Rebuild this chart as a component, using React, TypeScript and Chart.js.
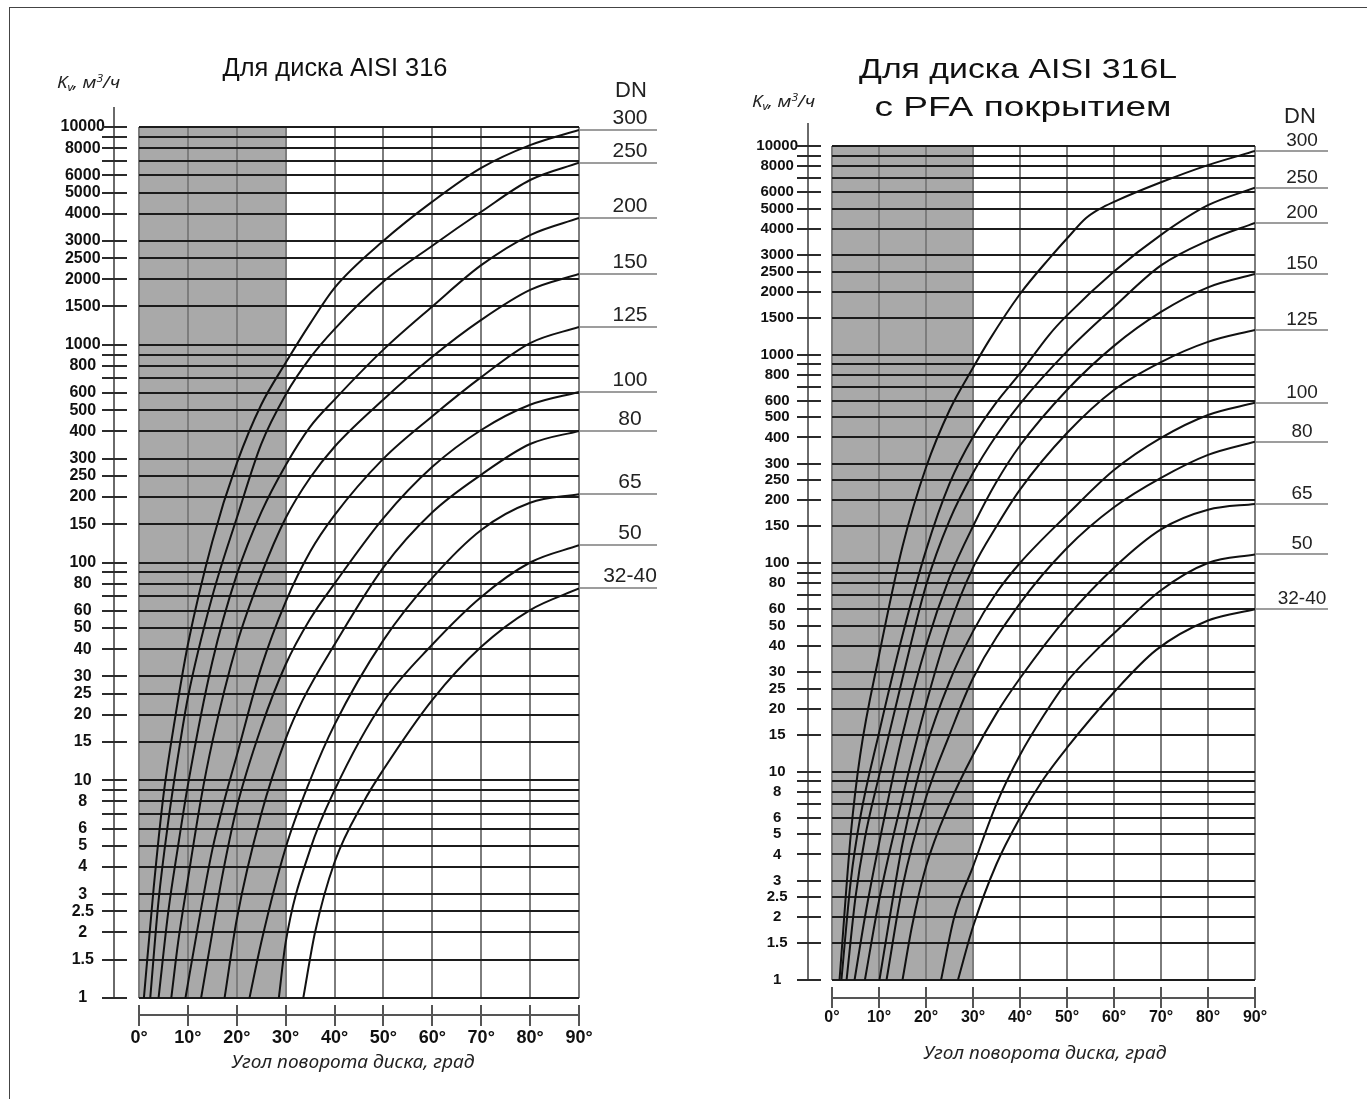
import React, { useEffect, useRef } from "react";
import { Chart, registerables } from "chart.js";

Chart.register(...registerables);

type Pt = [number, number];

// ---------- axis values ----------
const ANGLE_TICKS = [0, 10, 20, 30, 40, 50, 60, 70, 80, 90];
const KV_GRID = [
  1, 1.5, 2, 2.5, 3, 4, 5, 6, 7, 8, 9,
  10, 15, 20, 25, 30, 40, 50, 60, 70, 80, 90,
  100, 150, 200, 250, 300, 400, 500, 600, 700, 800, 900,
  1000, 1500, 2000, 2500, 3000, 4000, 5000, 6000, 7000, 8000, 9000, 10000,
];
const KV_LABELS = [
  1, 1.5, 2, 2.5, 3, 4, 5, 6, 8,
  10, 15, 20, 25, 30, 40, 50, 60, 80,
  100, 150, 200, 250, 300, 400, 500, 600, 800,
  1000, 1500, 2000, 2500, 3000, 4000, 5000, 6000, 8000, 10000,
];
const DN_NAMES = ["300", "250", "200", "150", "125", "100", "80", "65", "50", "32-40"];
const SHADED_TO = 30;

const LEFT_TITLE = ["Для диска AISI 316"];
const RIGHT_TITLE = ["Для диска AISI 316L", "с PFA покрытием"];
const X_TITLE = "Угол поворота диска, град";

// ---------- left chart (AISI 316): [angle, Kv] ----------
const L300: Pt[] = [[1, 1], [3, 3.2], [5, 8.5], [7.5, 20], [10, 42], [15, 125], [20, 285], [25, 530], [30, 826], [35, 1250], [40, 1824], [50, 3000], [60, 4540], [70, 6490], [80, 8260], [90, 9700]];
const L250: Pt[] = [[2.3, 1], [4, 2.8], [6, 6.5], [8, 13], [10, 24], [15, 70], [20, 160], [25, 350], [30, 590], [35, 870], [40, 1180], [50, 1950], [60, 2850], [70, 4080], [80, 5710], [90, 6850]];
const L200: Pt[] = [[4, 1], [6, 2.5], [8, 5], [10, 9.5], [15, 35], [20, 88], [25, 170], [30, 280], [35, 420], [40, 560], [50, 950], [60, 1500], [70, 2320], [80, 3190], [90, 3820]];
const L150: Pt[] = [[6.6, 1], [8, 1.8], [10, 3.5], [12.6, 8], [15, 15], [20, 42], [25, 88], [30, 160], [35, 245], [40, 340], [50, 560], [60, 880], [70, 1300], [80, 1785], [90, 2113]];
const L125: Pt[] = [[9.5, 1], [12, 2.1], [15, 4.8], [17.6, 8.3], [20, 13], [25, 33], [30, 66], [35, 112], [40, 165], [50, 300], [60, 470], [70, 710], [80, 1018], [90, 1208]];
const L100: Pt[] = [[12.7, 1], [15, 2], [17, 3.6], [20, 7.5], [25, 17.5], [30, 34], [35, 55], [40, 80], [50, 160], [60, 275], [70, 406], [80, 530], [90, 607]];
const L80: Pt[] = [[17.5, 1], [20, 2.3], [25, 7], [30, 15.5], [33.5, 23.4], [40, 42], [50, 95], [60, 170], [70, 253], [80, 350], [90, 402]];
const L65: Pt[] = [[22.6, 1], [25, 1.8], [30, 4.9], [35, 10], [40, 18], [50, 44], [60, 85], [70, 141], [80, 188], [90, 206]];
const L50: Pt[] = [[28.6, 1], [30, 1.8], [35, 4.8], [40, 9], [50, 23], [60, 42], [70, 69.5], [80, 100], [90, 120]];
const L3240: Pt[] = [[33.6, 1], [36, 2], [40, 4.2], [46, 8], [50, 11.2], [60, 23.4], [70, 41], [80, 60.5], [90, 76]];

// ---------- right chart (AISI 316L + PFA): [angle, Kv] ----------
const R300: Pt[] = [[1.6, 1], [4, 5], [6, 12], [10, 36], [15, 120], [20, 287], [25, 540], [30, 863], [33.5, 1175], [40, 1950], [46.3, 2900], [50, 3600], [54, 4500], [57, 5000], [60, 5400], [70, 6700], [80, 8100], [90, 9460]];
const R250: Pt[] = [[2, 1], [4, 3], [6, 6], [10, 15.3], [15, 45], [20, 115], [25, 240], [30, 402], [35, 590], [40, 811], [46.3, 1250], [50, 1540], [60, 2500], [70, 3750], [80, 5200], [90, 6310]];
const R200: Pt[] = [[3.1, 1], [5, 2.5], [7, 4.8], [10, 9.5], [15, 28], [20, 78], [25, 160], [30, 270], [35, 410], [40, 580], [50, 1035], [60, 1690], [70, 2675], [80, 3520], [90, 4280]];
const R150: Pt[] = [[4.8, 1], [7, 2], [10, 4.5], [15, 15], [20, 40], [25, 85], [30, 150], [35, 245], [40, 366], [50, 676], [60, 1100], [70, 1600], [80, 2100], [90, 2432]];
const R125: Pt[] = [[7, 1], [10, 2.4], [15, 7.5], [20, 21], [25, 50], [30, 95], [35, 150], [40, 225], [50, 420], [60, 676], [70, 920], [80, 1150], [90, 1312]];
const R100: Pt[] = [[10.1, 1], [13, 2.5], [15, 4.5], [20, 13], [25, 27], [30, 47], [35, 72], [40, 100], [50, 170], [60, 279], [70, 398], [80, 513], [90, 587]];
const R80: Pt[] = [[11.6, 1], [15, 2.8], [20, 7.5], [25, 15], [30, 28], [40, 64], [50, 118], [60, 185], [70, 256], [80, 330], [90, 382]];
const R65: Pt[] = [[15, 1], [17, 1.8], [20, 3.5], [25, 7], [30, 12], [35, 19], [40, 28], [50, 55], [60, 95], [70, 145], [80, 180], [90, 192]];
const R50: Pt[] = [[23.2, 1], [26, 2], [30, 3.5], [35, 7], [40, 12], [45, 18.5], [50, 27], [56.3, 38.3], [60, 46], [70, 74], [80, 100], [90, 110]];
const R3240: Pt[] = [[26.8, 1], [30, 1.8], [35, 3.6], [40, 6], [45, 9.2], [50, 13], [60, 24], [69, 38.3], [80, 53], [90, 60]];

const LEFT_SERIES = [L300, L250, L200, L150, L125, L100, L80, L65, L50, L3240];
const RIGHT_SERIES = [R300, R250, R200, R150, R125, R100, R80, R65, R50, R3240];

// ---------- styling / layout ----------
const FONT = '"Liberation Sans", Arial, Helvetica, sans-serif';
const ITALIC_FONT = '"Noto Sans", "Open Sans", "DejaVu Sans", sans-serif';
const PAGE_H = 1099;

type Layout = {
  canvasLeft: number;
  canvasWidth: number;
  area: { left: number; top: number; right: number; bottom: number };
  titles: { text: string; cx: number; base: number; size: number; width: number }[];
  kv: { x: number; base: number; size: number; width: number };
  dnHeader: { cx: number; base: number; size: number };
  dn: { cx: number; lineEnd: number; rise: number; size: number };
  yAxis: { x: number; top: number; from: number; to: number; fontSize: number; pad: number };
  xAxis: { y: number; from: number; to: number; fontSize: number; pad: number };
  xTitle: { cx: number; base: number; size: number; width: number };
};

const LEFT_LAYOUT: Layout = {
  canvasLeft: 0,
  canvasWidth: 683,
  area: { left: 139, top: 127, right: 579, bottom: 998 },
  titles: [{ text: LEFT_TITLE[0], cx: 335, base: 76, size: 26, width: 225 }],
  kv: { x: 57, base: 88, size: 17, width: 63 },
  dnHeader: { cx: 631, base: 97, size: 22 },
  dn: { cx: 630, lineEnd: 657, rise: 6, size: 21 },
  yAxis: { x: 114, top: 107, from: 102, to: 127, fontSize: 16, pad: 34 },
  xAxis: { y: 1015, from: 1005, to: 1026, fontSize: 18, pad: 29 },
  xTitle: { cx: 353, base: 1068, size: 18, width: 243 },
};

const RIGHT_LAYOUT: Layout = {
  canvasLeft: 683,
  canvasWidth: 684,
  area: { left: 832, top: 146, right: 1255, bottom: 980 },
  titles: [
    { text: RIGHT_TITLE[0], cx: 1018, base: 78, size: 28, width: 318 },
    { text: RIGHT_TITLE[1], cx: 1023, base: 116, size: 28, width: 297 },
  ],
  kv: { x: 752, base: 107, size: 17, width: 63 },
  dnHeader: { cx: 1300, base: 123, size: 22 },
  dn: { cx: 1302, lineEnd: 1328, rise: 5, size: 19 },
  yAxis: { x: 808, top: 123, from: 797, to: 821, fontSize: 15, pad: 34 },
  xAxis: { y: 998, from: 987, to: 1008, fontSize: 16, pad: 28 },
  xTitle: { cx: 1045, base: 1059, size: 18, width: 243 },
};

function fitText(ctx: CanvasRenderingContext2D, text: string, cx: number, base: number, font: string, width: number) {
  ctx.save();
  ctx.font = font;
  const w = ctx.measureText(text).width || 1;
  ctx.translate(cx - width / 2, base);
  ctx.scale(width / w, 1);
  ctx.textAlign = "left";
  ctx.textBaseline = "alphabetic";
  ctx.fillText(text, 0, 0);
  ctx.restore();
}

function drawKv(ctx: CanvasRenderingContext2D, x: number, base: number, size: number, width: number) {
  const parts = [
    { t: "K", s: size, dy: 0 },
    { t: "v", s: size * 0.65, dy: 3 },
    { t: ", м", s: size, dy: 0 },
    { t: "3", s: size * 0.65, dy: -6 },
    { t: "/ч", s: size, dy: 0 },
  ];
  ctx.save();
  let total = 0;
  for (const p of parts) {
    ctx.font = `italic ${p.s}px ${ITALIC_FONT}`;
    total += ctx.measureText(p.t).width;
  }
  ctx.translate(x, base);
  ctx.scale(width / total, 1);
  ctx.textAlign = "left";
  ctx.textBaseline = "alphabetic";
  let cur = 0;
  for (const p of parts) {
    ctx.font = `italic ${p.s}px ${ITALIC_FONT}`;
    ctx.fillText(p.t, cur, p.dy);
    cur += ctx.measureText(p.t).width;
  }
  ctx.restore();
}

function makeDecor(L: Layout, series: Pt[][]) {
  return {
    id: "decor",
    beforeDraw(chart: any) {
      const { ctx, chartArea: ca, scales } = chart;
      const x0 = scales.x.getPixelForValue(0);
      const x1 = scales.x.getPixelForValue(SHADED_TO);
      ctx.save();
      ctx.fillStyle = "#a9a9a9";
      ctx.fillRect(x0, ca.top, x1 - x0, ca.bottom - ca.top);
      ctx.restore();
    },
    afterDraw(chart: any) {
      const { ctx, chartArea: ca, scales } = chart;
      const xs = scales.x;
      const ys = scales.y;
      const o = L.canvasLeft;
      ctx.save();

      // y axis line + tick marks
      ctx.lineWidth = 2;
      ctx.strokeStyle = "#6a6a6a";
      ctx.beginPath();
      ctx.moveTo(L.yAxis.x - o, L.yAxis.top);
      ctx.lineTo(L.yAxis.x - o, ca.bottom);
      ctx.stroke();
      ctx.strokeStyle = "#2b2b2b";
      for (const v of KV_GRID) {
        const py = Math.round(ys.getPixelForValue(v));
        ctx.beginPath();
        ctx.moveTo(L.yAxis.from - o, py);
        ctx.lineTo(L.yAxis.to - o, py);
        ctx.stroke();
      }

      // x axis line + tick marks
      ctx.strokeStyle = "#555";
      ctx.beginPath();
      ctx.moveTo(xs.getPixelForValue(0), L.xAxis.y);
      ctx.lineTo(xs.getPixelForValue(90), L.xAxis.y);
      ctx.stroke();
      for (const a of ANGLE_TICKS) {
        const px = Math.round(xs.getPixelForValue(a));
        ctx.beginPath();
        ctx.moveTo(px, L.xAxis.from);
        ctx.lineTo(px, L.xAxis.to);
        ctx.stroke();
      }

      // DN lines + labels
      ctx.fillStyle = "#222";
      ctx.textAlign = "center";
      ctx.textBaseline = "alphabetic";
      series.forEach((s, i) => {
        const end = s[s.length - 1];
        const px = xs.getPixelForValue(end[0]);
        const py = Math.round(ys.getPixelForValue(end[1]));
        ctx.strokeStyle = "#7c7c7c";
        ctx.lineWidth = 1.6;
        ctx.beginPath();
        ctx.moveTo(px, py);
        ctx.lineTo(L.dn.lineEnd - o, py);
        ctx.stroke();
        ctx.font = `${L.dn.size}px ${FONT}`;
        ctx.fillText(DN_NAMES[i], L.dn.cx - o, py - L.dn.rise);
      });
      ctx.font = `${L.dnHeader.size}px ${FONT}`;
      ctx.fillText("DN", L.dnHeader.cx - o, L.dnHeader.base);

      // titles
      ctx.fillStyle = "#111";
      for (const t of L.titles) {
        fitText(ctx, t.text, t.cx - o, t.base, `${t.size}px ${FONT}`, t.width);
      }
      // axis captions
      ctx.fillStyle = "#222";
      drawKv(ctx, L.kv.x - o, L.kv.base, L.kv.size, L.kv.width);
      fitText(ctx, X_TITLE, L.xTitle.cx - o, L.xTitle.base, `italic ${L.xTitle.size}px ${ITALIC_FONT}`, L.xTitle.width);

      ctx.restore();
    },
  };
}

function buildConfig(L: Layout, series: Pt[][]): any {
  const areaLeft = L.area.left - L.canvasLeft;
  const areaRight = L.area.right - L.canvasLeft;
  return {
    type: "line",
    data: {
      datasets: series.map((s, i) => ({
        label: "DN " + DN_NAMES[i],
        data: s.map(([a, k]) => ({ x: a, y: k })),
        borderColor: "#111",
        borderWidth: 2,
        pointRadius: 0,
        fill: false,
        cubicInterpolationMode: "monotone",
      })),
    },
    options: {
      animation: false,
      responsive: false,
      devicePixelRatio: 1,
      events: [],
      layout: { padding: { top: L.area.top, right: L.canvasWidth - areaRight, left: 0, bottom: 0 } },
      plugins: { legend: { display: false }, tooltip: { enabled: false }, title: { display: false } },
      scales: {
        x: {
          type: "linear",
          min: 0,
          max: 90,
          afterBuildTicks: (s: any) => {
            s.ticks = ANGLE_TICKS.map((v) => ({ value: v }));
          },
          afterFit: (s: any) => {
            s.height = PAGE_H - L.area.bottom;
          },
          border: { display: false },
          grid: { color: "#7d7d7d", lineWidth: 2, drawTicks: false },
          ticks: {
            autoSkip: false,
            maxRotation: 0,
            padding: L.xAxis.pad,
            color: "#111",
            font: { family: FONT, size: L.xAxis.fontSize, weight: "bold" },
            callback: (v: any) => `${v}°`,
          },
        },
        y: {
          type: "logarithmic",
          min: 1,
          max: 10000,
          afterBuildTicks: (s: any) => {
            s.ticks = KV_GRID.map((v) => ({ value: v }));
          },
          afterFit: (s: any) => {
            s.width = areaLeft;
          },
          border: { display: false },
          grid: { color: "#1c1c1c", lineWidth: 2, drawTicks: false },
          ticks: {
            autoSkip: false,
            crossAlign: "center",
            padding: L.yAxis.pad,
            color: "#111",
            font: { family: FONT, size: L.yAxis.fontSize, weight: "bold" },
            callback: (v: any) => (KV_LABELS.includes(Number(v)) ? String(v) : ""),
          },
        },
      },
    },
    plugins: [makeDecor(L, series)],
  };
}

function ChartPanel({ layout, series }: { layout: Layout; series: Pt[][] }) {
  const ref = useRef<HTMLCanvasElement | null>(null);
  useEffect(() => {
    if (!ref.current) return;
    const chart = new Chart(ref.current, buildConfig(layout, series));
    return () => chart.destroy();
  }, [layout, series]);
  return (
    <canvas
      ref={ref}
      width={layout.canvasWidth}
      height={PAGE_H}
      style={{ position: "absolute", left: layout.canvasLeft, top: 0, width: layout.canvasWidth, height: PAGE_H }}
    />
  );
}

export default function App() {
  return (
    <div style={{ position: "absolute", left: 0, top: 0, width: 1367, height: PAGE_H, background: "#fff", overflow: "hidden" }}>
      <div
        style={{
          position: "absolute",
          left: 9,
          top: 7,
          width: 1400,
          height: 1200,
          borderLeft: "1px solid #444",
          borderTop: "1px solid #444",
        }}
      />
      <ChartPanel layout={LEFT_LAYOUT} series={LEFT_SERIES} />
      <ChartPanel layout={RIGHT_LAYOUT} series={RIGHT_SERIES} />
    </div>
  );
}
